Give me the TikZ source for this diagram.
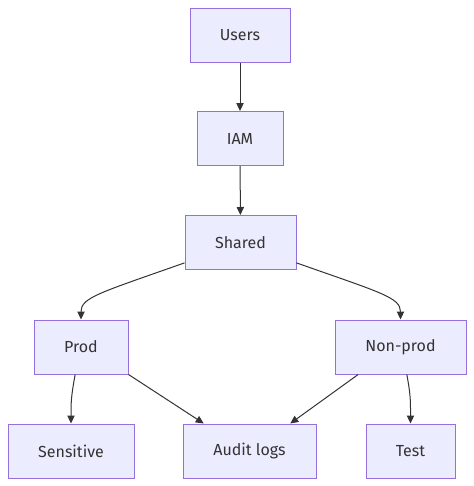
\documentclass[tikz,border=0pt]{standalone}
\usepackage{fontspec}
\setmainfont{Fira Sans}
\usetikzlibrary{arrows.meta,calc}
\definecolor{nodefill}{HTML}{ECECFF}
\definecolor{nodestroke}{HTML}{9370DB}
\definecolor{txt}{HTML}{333333}
\begin{document}
\begin{tikzpicture}[x=0.75pt,y=-0.75pt,
  box/.style={draw=nodestroke,fill=nodefill,line width=0.75pt,text=txt,
    font=\fontsize{12}{14}\selectfont,minimum height=40.5pt,inner sep=0pt},
  link/.style={draw=txt,line width=0.75pt,-{Triangle[length=6pt,width=5.5pt]}}]
\useasboundingbox (0,0) rectangle (474,486);
\node[box,minimum width=75pt] (users) at (240,35) {Users};
\node[box,minimum width=64.5pt] (iam) at (240,138.5) {IAM};
\node[box,minimum width=83.25pt] (shared) at (240.5,242.5) {Shared};
\node[box,minimum width=70.5pt] (prod) at (81,347) {Prod};
\node[box,minimum width=98.25pt] (nonprod) at (400.5,347) {Non-prod};
\node[box,minimum width=94.5pt] (sens) at (71,451) {Sensitive};
\node[box,minimum width=99.75pt] (audit) at (249.5,451) {Audit logs};
\node[box,minimum width=66.75pt] (test) at (410.5,451) {Test};
\draw[link] (users) -- (iam);
\draw[link] (iam) -- (shared);
\draw[link] (shared.200) .. controls ($(shared.200)+(-85,30)$) and ($(prod.north)+(0,-22)$) .. (prod.north);
\draw[link] (shared.-20) .. controls ($(shared.-20)+(85,30)$) and ($(nonprod.north)+(0,-22)$) .. (nonprod.north);
\draw[link] (prod.-102) .. controls ($(prod.-102)+(-4,22)$) and ($(sens.north)+(0,-22)$) .. (sens.north);
\draw[link] (prod.south east) -- (audit.149);
\draw[link] (nonprod.-147) -- (audit.34);
\draw[link] (nonprod.-77) .. controls ($(nonprod.-77)+(4,22)$) and ($(test.north)+(0,-22)$) .. (test.north);
\end{tikzpicture}
\end{document}
